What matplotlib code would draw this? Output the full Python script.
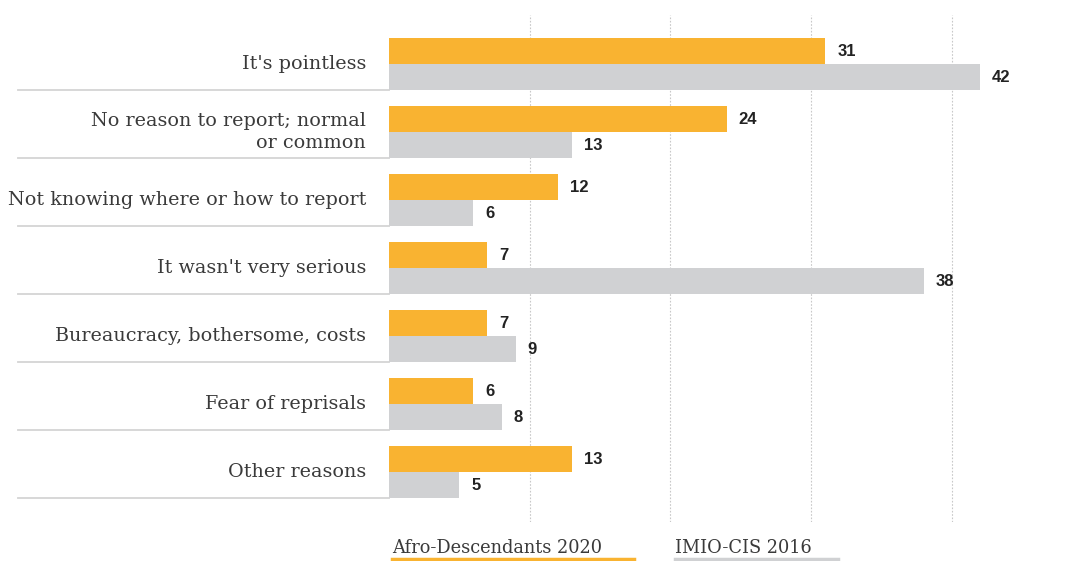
import matplotlib
matplotlib.use("Agg")
import matplotlib.pyplot as plt
import matplotlib.transforms as mtransforms

# 数据
categories = [
    "It's pointless",
    "No reason to report; normal\nor common",
    "Not knowing where or how to report",
    "It wasn't very serious",
    "Bureaucracy, bothersome, costs",
    "Fear of reprisals",
    "Other reasons",
]
afro_2020 = [31, 24, 12, 7, 7, 6, 13]
imio_2016 = [42, 13, 6, 38, 9, 8, 5]
series_names = ["Afro-Descendants 2020", "IMIO-CIS 2016"]

ORANGE = "#F9B331"
GREY = "#D0D1D3"
LABEL_FONT = ["DejaVu Serif"]
NUM_FONT = ["Liberation Sans", "DejaVu Sans"]

W, H = 1078, 561
fig = plt.figure(figsize=(W / 100, H / 100), dpi=100)

# 坐标轴按像素位置放置
left_px, right_px, top_px, bottom_px = 389, 1078, 15, 522
ax = fig.add_axes([left_px / W, 1 - bottom_px / H,
                   (right_px - left_px) / W, (bottom_px - top_px) / H])

px_per_unit = 14.07
ax.set_xlim(0, (right_px - left_px) / px_per_unit)
row_px = 68
ax.set_ylim((bottom_px - 64) / row_px, (top_px - 64) / row_px)

bar_h = 26 / row_px
ys = list(range(len(categories)))
ax.barh([y - bar_h / 2 for y in ys], afro_2020, height=bar_h, color=ORANGE, zorder=3)
ax.barh([y + bar_h / 2 for y in ys], imio_2016, height=bar_h, color=GREY, zorder=3)

# 垂直网格线
for gx in [10, 20, 30, 40]:
    ax.axvline(gx, color="#c8c8c8", lw=0.8, ls=(0, (1.5, 1.5)), zorder=1)

# 数值标签
for y, a, b in zip(ys, afro_2020, imio_2016):
    ax.text(a + 12 / px_per_unit, y - bar_h / 2, str(a), va="center", ha="left",
            fontsize=12, family=NUM_FONT, color="#222222", fontweight="bold")
    ax.text(b + 12 / px_per_unit, y + bar_h / 2, str(b), va="center", ha="left",
            fontsize=12, family=NUM_FONT, color="#222222", fontweight="bold")

# 分类标签和分隔线
trans = mtransforms.blended_transform_factory(ax.transAxes, ax.transData)
x_sep0 = (18 - left_px) / (right_px - left_px)
x_lab = (366 - left_px) / (right_px - left_px)
for y, cat in zip(ys, categories):
    ax.plot([x_sep0, 0], [y + bar_h, y + bar_h], transform=trans, color="#d4d4d4",
            lw=1.3, clip_on=False, zorder=2)
    ax.text(x_lab, y, cat, transform=trans, ha="right", va="center",
            fontsize=13.8, family=LABEL_FONT, color="#3a3a3a", linespacing=1.3)

# 图例
fig.text(392 / W, 1 - 548 / H, series_names[0], ha="left", va="center",
         fontsize=12.8, family=LABEL_FONT, color="#3a3a3a")
fig.add_artist(plt.Line2D([392 / W, 634 / W], [1 - 559 / H] * 2, color=ORANGE, lw=2.5))
fig.text(675 / W, 1 - 548 / H, series_names[1], ha="left", va="center",
         fontsize=12.8, family=LABEL_FONT, color="#3a3a3a")
fig.add_artist(plt.Line2D([675 / W, 838 / W], [1 - 559 / H] * 2, color=GREY, lw=2.5))

ax.set_xticks([])
ax.set_yticks([])
for s in ax.spines.values():
    s.set_visible(False)

fig.savefig("out.png", dpi=100)
